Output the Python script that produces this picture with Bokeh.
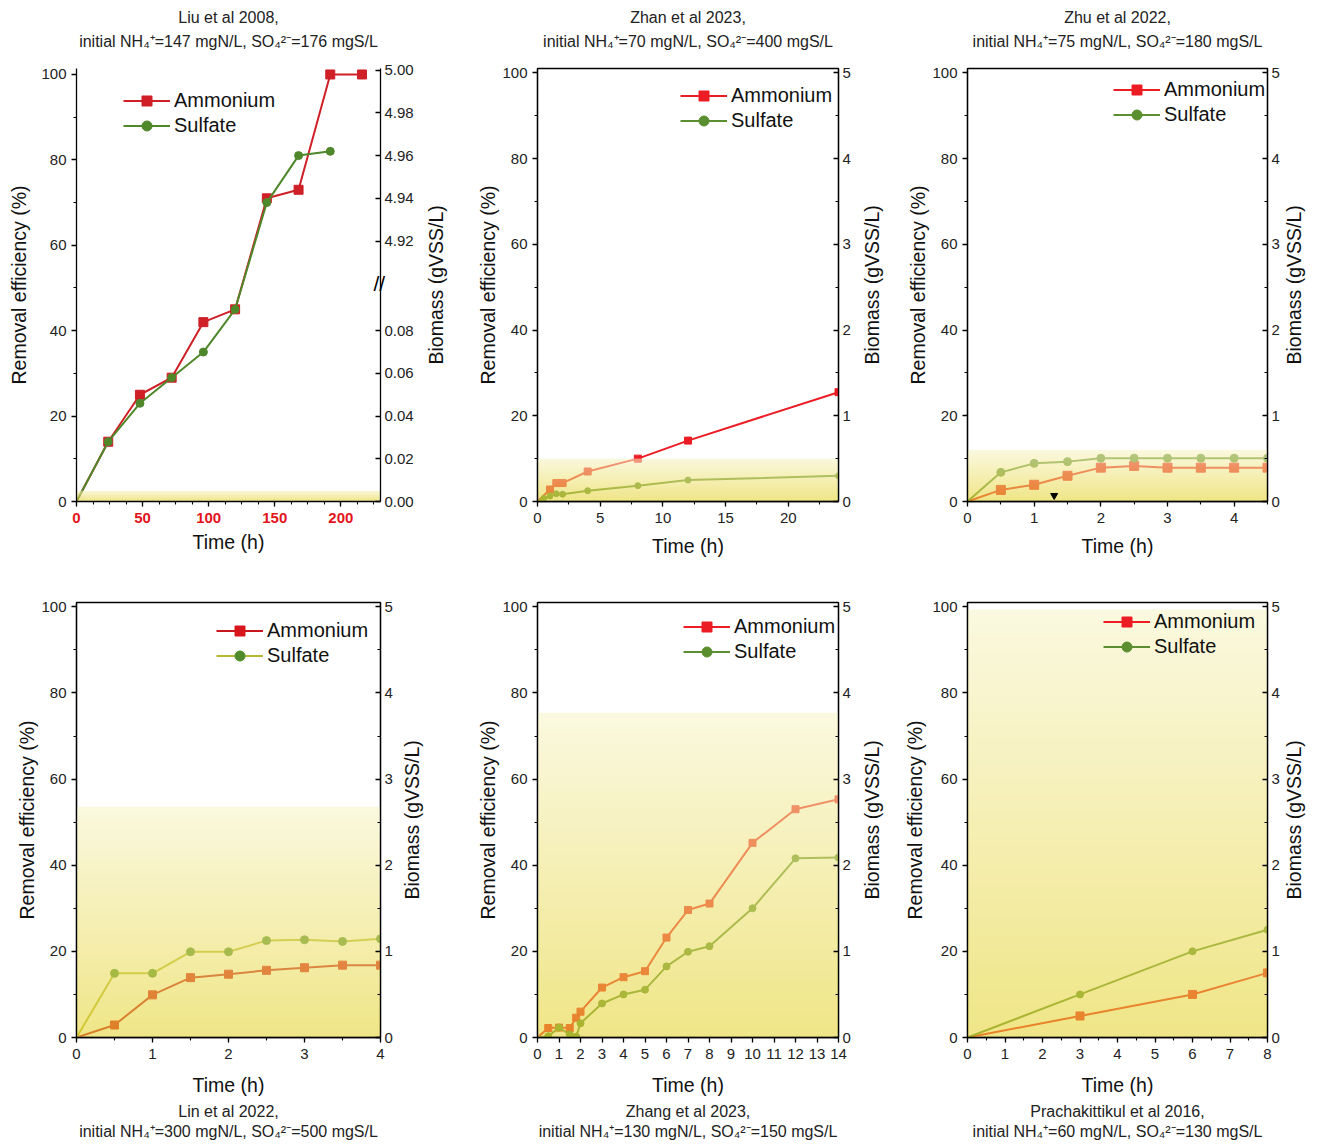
import math
import numpy as np
from bokeh.plotting import figure
from bokeh.models import (Range1d, LinearAxis, FixedTicker, SingleIntervalTicker,
                          Title, Legend, LegendItem)
from bokeh.layouts import column, row
from bokeh.embed import file_html
from bokeh.resources import INLINE

# ---------------- data ----------------
# Liu et al 2008 (time in h)
liu_t = [0, 24, 48, 72, 96, 120, 144, 168, 192, 216]
liu_nh4 = [0, 14, 25, 29, 42, 45, 71, 73, 100, 100]
liu_t_so4 = [0, 24, 48, 72, 96, 120, 144, 168, 192]
liu_so4 = [0, 14, 23, 29, 35, 45, 70, 81, 82]
liu_biomass = 0.005
liu_biomass_ticks = [0.00, 0.02, 0.04, 0.06, 0.08, 4.92, 4.94, 4.96, 4.98, 5.00]
liu_break = 0.1  # position of the axis break (between 0.08 and 4.92)

# Zhan et al 2023
zhan_t_nh4 = [0, 1, 1.5, 2, 4, 8, 12, 24]
zhan_nh4 = [0, 2.8, 4.3, 4.3, 7.0, 10.0, 14.2, 25.5]
zhan_t_so4 = [0, 0.5, 1, 1.5, 2, 4, 8, 12, 24]
zhan_so4 = [0, 0.7, 1.3, 1.8, 1.7, 2.5, 3.7, 5.0, 6.0]
zhan_biomass = 0.5

# Zhu et al 2022
zhu_t = [0, 0.5, 1, 1.5, 2, 2.5, 3, 3.5, 4, 4.5]
zhu_nh4 = [0, 2.7, 3.9, 6.0, 7.9, 8.3, 7.9, 7.9, 7.9, 7.9]
zhu_so4 = [0, 6.8, 8.9, 9.3, 10.1, 10.1, 10.1, 10.1, 10.1, 10.1]
zhu_biomass = 0.6
zhu_mark_t = [1.3]
zhu_mark_y = [1.4]

# Lin et al 2022
lin_t = [0, 0.5, 1, 1.5, 2, 2.5, 3, 3.5, 4]
lin_nh4 = [0, 2.9, 9.9, 13.9, 14.7, 15.6, 16.2, 16.8, 16.8]
lin_so4 = [0, 14.9, 14.9, 19.9, 19.9, 22.5, 22.7, 22.3, 22.9]
lin_biomass = 2.68

# Zhang et al 2023
zhang_t = [0, 0.5, 1, 1.5, 1.8, 2, 3, 4, 5, 6, 7, 8, 10, 12, 14]
zhang_nh4 = [0, 2.2, 2.3, 2.2, 4.6, 6.0, 11.6, 14.0, 15.4, 23.2, 29.6, 31.1, 45.2, 53.0, 55.3]
zhang_so4 = [0, 0.3, 2.3, 0.7, 0.2, 3.3, 7.9, 10.0, 11.1, 16.5, 19.9, 21.2, 30.0, 41.6, 41.8]
zhang_biomass = 3.77

# Prachakittikul et al 2016
pra_t = [0, 3, 6, 8]
pra_nh4 = [0, 5, 10, 15]
pra_so4 = [0, 10, 20, 25]
pra_biomass = 4.97

NH = "NH\u2084\u207a"
SO = "SO\u2084\u00b2\u207b"
titles = [
    ("Liu et al 2008,", f"initial {NH}=147 mgN/L, {SO}=176 mgS/L"),
    ("Zhan et al 2023,", f"initial {NH}=70 mgN/L, {SO}=400 mgS/L"),
    ("Zhu et al 2022,", f"initial {NH}=75 mgN/L, {SO}=180 mgS/L"),
    ("Lin et al 2022,", f"initial {NH}=300 mgN/L, {SO}=500 mgS/L"),
    ("Zhang et al 2023,", f"initial {NH}=130 mgN/L, {SO}=150 mgS/L"),
    ("Prachakittikul et al 2016,", f"initial {NH}=60 mgN/L, {SO}=130 mgS/L"),
]
BIO_LABEL = "Biomass (gVSS/L)"

# ---------------- style ----------------
FONT = "Liberation Sans"
RED = "#ec1c24"
GREEN = "#5b8e2f"
TXT = "#222222"
LABEL_PX = 159.0  # rendered length of the biomass label


def liu_pos(v):
    # broken right axis of the Liu panel: 0-0.08 lower part, 4.92-5.00 upper part
    if v < 0.09:
        return v * 500.0
    if v < 1:
        return 51.0
    return 101.0 - (5.0 - v) * 500.0


def style_axis(ax, side):
    ax.axis_line_color = "black"
    ax.axis_line_width = 1.3
    ax.major_tick_line_color = "black"
    ax.minor_tick_line_color = "black"
    ax.major_tick_line_width = 1.3
    ax.minor_tick_line_width = 1.1
    ax.major_label_text_font = FONT
    ax.major_label_text_font_size = "15px"
    ax.major_label_text_color = TXT
    ax.axis_label_text_font = FONT
    ax.axis_label_text_font_size = "19.5px"
    ax.axis_label_text_font_style = "normal"
    ax.axis_label_text_color = "#111111"
    if side in ("left", "below"):
        ax.major_tick_out, ax.major_tick_in = 5, 0
        ax.minor_tick_out, ax.minor_tick_in = 3, 0
    else:
        ax.major_tick_out, ax.major_tick_in = 0, 5
        ax.minor_tick_out, ax.minor_tick_in = 0, 3


def band_image(n=256):
    img = np.empty((n, 1), dtype=np.uint32)
    view = img.view(dtype=np.uint8).reshape((n, 1, 4))
    c0 = np.array([228, 210, 45], dtype=float)
    c1 = np.array([248, 244, 200], dtype=float)
    for i in range(n):
        f = i / (n - 1)
        c = c0 + (c1 - c0) * f
        view[i, 0, 0:3] = c.astype(np.uint8)
        view[i, 0, 3] = 145
    return img


def make_title(text, standoff, **kw):
    try:
        return Title(text=text, standoff=standoff, **kw)
    except Exception:
        return Title(text=text, standoff=0, **kw)


def bare_axis(pos, text, standoff, size, orientation=None):
    ax = LinearAxis(ticker=FixedTicker(ticks=[pos]), major_label_overrides={pos: text},
                    axis_line_color=None, major_tick_line_color=None,
                    minor_tick_line_color=None, major_tick_in=0, major_tick_out=0,
                    minor_tick_in=0, minor_tick_out=0,
                    major_label_standoff=standoff, major_label_text_font=FONT,
                    major_label_text_font_size=size, major_label_text_color="#111111")
    if orientation is not None:
        ax.major_label_orientation = orientation
    return ax


def panel(cfg):
    left, right, top, bottom = cfg["mb"]
    fh = cfg["h"] - top - bottom
    p = figure(width=cfg["w"], height=cfg["h"],
               x_range=Range1d(0, cfg["xmax"]), y_range=Range1d(0, cfg["ymax"]),
               output_backend="svg", toolbar_location=None,
               min_border_left=left, min_border_right=right,
               min_border_top=top, min_border_bottom=bottom)
    p.xgrid.visible = False
    p.ygrid.visible = False
    p.outline_line_color = "black" if cfg.get("outline", True) else None
    p.outline_line_width = 1.3
    p.background_fill_color = "white"
    p.border_fill_color = "white"

    p.xaxis.ticker = SingleIntervalTicker(interval=cfg["xint"], num_minor_ticks=cfg["xminor"])
    p.yaxis.ticker = SingleIntervalTicker(interval=20, num_minor_ticks=2)
    p.xaxis.axis_label = "Time (h)"
    p.yaxis.axis_label = "Removal efficiency (%)"
    style_axis(p.xaxis[0], "below")
    style_axis(p.yaxis[0], "left")
    p.xaxis.major_label_standoff = 6
    p.xaxis.axis_label_standoff = cfg.get("xls", 8)
    p.yaxis.major_label_standoff = 5
    p.yaxis.axis_label_standoff = cfg.get("yls", 8)

    if cfg.get("liu"):
        ticks = [liu_pos(v) for v in liu_biomass_ticks]
        rax = LinearAxis(ticker=FixedTicker(ticks=ticks),
                         major_label_overrides={t: f"{v:.2f}" for t, v in zip(ticks, liu_biomass_ticks)})
        band_top = liu_pos(cfg["bio"])
    else:
        p.extra_y_ranges = {"bio": Range1d(0, cfg["ymax"] / 20.0)}
        rax = LinearAxis(y_range_name="bio", ticker=SingleIntervalTicker(interval=1, num_minor_ticks=2))
        band_top = cfg["bio"] * 20.0
    style_axis(rax, "right")
    rax.major_label_standoff = 4
    p.add_layout(rax, "right")

    # biomass axis title, reading bottom-to-top, centred on the frame
    lab_pos = cfg["ymax"] / 2.0 - (LABEL_PX / 2.0) * cfg["ymax"] / fh
    p.add_layout(bare_axis(lab_pos, BIO_LABEL, cfg["rls"], "19.5px", math.pi / 2), "right")

    if cfg.get("liu"):
        # axis-break mark drawn as the single label of an extra, line-less axis
        bpos = liu_pos(liu_break)
        bax = bare_axis(bpos, "//", cfg["bso"], "21px")
        bax.major_label_text_color = "black"
        p.add_layout(bax, "right")

    r_l1 = p.line(cfg["tn"], cfg["n"], line_color=cfg["cn"], line_width=2)
    tn = [t for t in cfg["tn"] if t > 0]
    nn = [v for t, v in zip(cfg["tn"], cfg["n"]) if t > 0]
    r_m1 = p.scatter(tn, nn, marker="square", size=cfg["sq"], color=cfg.get("cnm", cfg["cn"]))
    r_l2 = p.line(cfg["ts"], cfg["s"], line_color=cfg["cs"], line_width=2)
    ts = [t for t in cfg["ts"] if t > 0]
    ss = [v for t, v in zip(cfg["ts"], cfg["s"]) if t > 0]
    r_m2 = p.scatter(ts, ss, marker="circle", size=cfg["ci"], color=cfg.get("csm", cfg["cs"]))

    p.image_rgba(image=[band_image()], x=0, y=0, dw=cfg["xmax"], dh=band_top)

    if cfg.get("mark"):
        p.scatter(cfg["mark"][0], cfg["mark"][1], marker="inverted_triangle", size=7, color="black")

    lx, ltop = cfg["leg"]
    leg = Legend(items=[LegendItem(label="Ammonium", renderers=[r_l1, r_m1]),
                        LegendItem(label="Sulfate", renderers=[r_l2, r_m2])],
                 location=(lx, fh - ltop - 50), border_line_color=None, background_fill_alpha=0,
                 padding=0, spacing=0, margin=0, glyph_width=47, glyph_height=25,
                 label_height=25, label_standoff=4,
                 label_text_font=FONT, label_text_font_size="20px", label_text_color="#111111")
    p.add_layout(leg)

    t1, t2 = cfg["title"]
    tkw = dict(align="center", text_font=FONT, text_font_size="16px",
               text_font_style="normal", text_color=TXT)
    if cfg["top"]:
        p.add_layout(Title(text=" ", standoff=3, align="center", text_font=FONT,
                           text_font_size="10px"), "above")
        p.add_layout(make_title(t2, 5, **tkw), "above")
        p.add_layout(make_title(t1, 5, **tkw), "above")
    else:
        p.add_layout(make_title(t1, 5, text_line_height=1.0, **tkw), "below")
        p.add_layout(make_title(t2, -4, text_line_height=1.0, **tkw), "below")
    return p


# mb = (left, right, top, bottom); leg = (x from frame left, legend top below frame top)
TOP_H, BOT_H = 575, 569
cfgs = [
    dict(w=460, h=TOP_H, mb=(76, 80, 68, 74), xmax=230, ymax=101.4, xint=50, xminor=4,
         liu=True, outline=False, bio=liu_biomass, tn=liu_t, n=liu_nh4, ts=liu_t_so4, s=liu_so4,
         cn="#cf1f27", cs="#4f872b", sq=9, ci=8, leg=(47, 20), title=titles[0], top=True,
         xls=5, rls=19, bso=-87, yls=8),
    dict(w=436, h=TOP_H, mb=(77, 58, 68, 74), xmax=24, ymax=101, xint=5, xminor=2,
         bio=zhan_biomass, tn=zhan_t_nh4, n=zhan_nh4, ts=zhan_t_so4, s=zhan_so4,
         cn=RED, cs=GREEN, sq=7, ci=6, leg=(143, 15), title=titles[1], top=True, xls=9, rls=18,
         yls=0),
    dict(w=422, h=TOP_H, mb=(71, 51, 68, 74), xmax=4.5, ymax=101, xint=1, xminor=2,
         bio=zhu_biomass, tn=zhu_t, n=zhu_nh4, ts=zhu_t, s=zhu_so4, mark=(zhu_mark_t, zhu_mark_y),
         cn=RED, cs=GREEN, sq=9, ci=8, leg=(146, 9), title=titles[2], top=True, xls=9, rls=11,
         yls=0),
    dict(w=460, h=BOT_H, mb=(76, 80, 27, 107), xmax=4, ymax=101, xint=1, xminor=2,
         bio=lin_biomass, tn=lin_t, n=lin_nh4, ts=lin_t, s=lin_so4,
         cn="#c8161e", cnm="#d8141c", cs="#b5b934", csm="#4e8b2c", sq=8, ci=8,
         leg=(140, 16), title=titles[3], top=False, xls=12, rls=16, yls=0),
    dict(w=436, h=BOT_H, mb=(77, 58, 27, 107), xmax=14, ymax=101, xint=1, xminor=0,
         bio=zhang_biomass, tn=zhang_t, n=zhang_nh4, ts=zhang_t, s=zhang_so4,
         cn=RED, cs=GREEN, sq=7, ci=7, leg=(146, 12), title=titles[4], top=False, xls=12, rls=18,
         yls=0),
    dict(w=422, h=BOT_H, mb=(71, 51, 27, 107), xmax=8, ymax=101, xint=1, xminor=2,
         bio=pra_biomass, tn=pra_t, n=pra_nh4, ts=pra_t, s=pra_so4,
         cn=RED, cs=GREEN, sq=8, ci=7, leg=(136, 7), title=titles[5], top=False, xls=12, rls=11,
         yls=3),
]

plots = [panel(c) for c in cfgs]

# red bold time ticks in the Liu panel
p1 = plots[0]
p1.xaxis.major_label_text_color = "#e3141c"
p1.xaxis.major_label_text_font_style = "bold"

layout = column(row(*plots[:3]), row(*plots[3:]))
open("out.html", "w").write(file_html(layout, INLINE))
